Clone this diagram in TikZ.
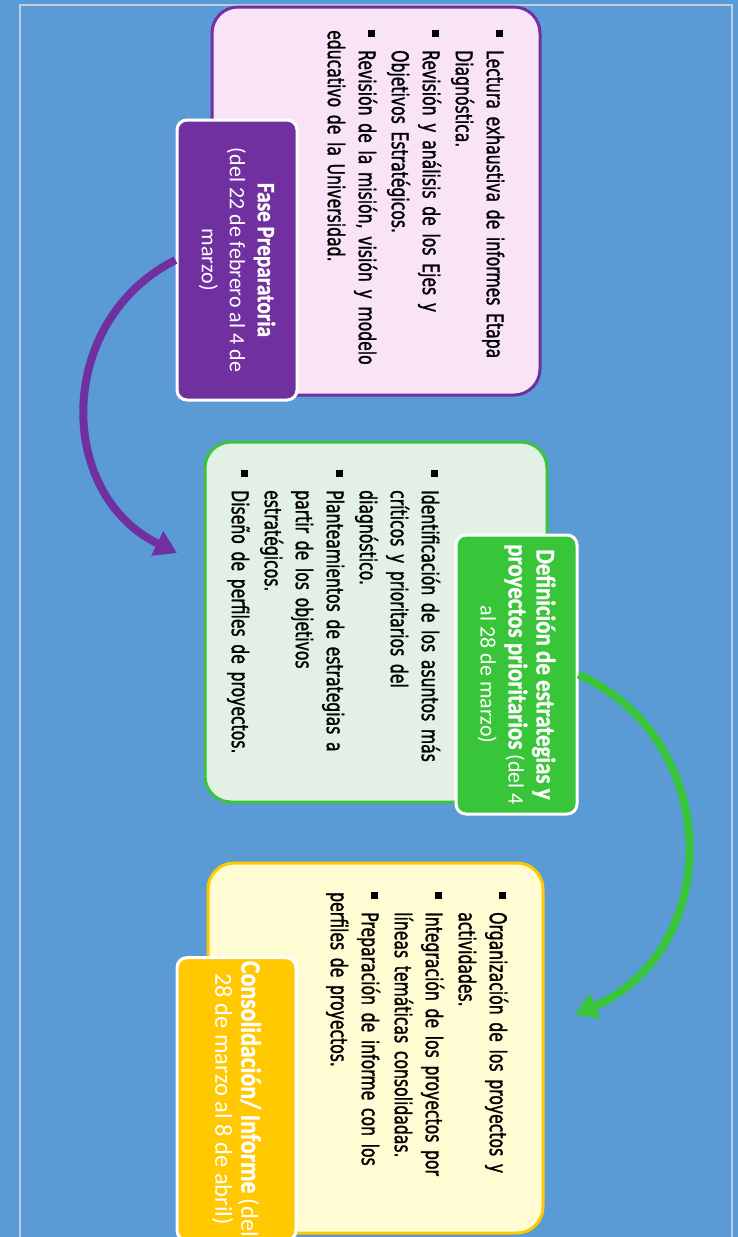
\documentclass[tikz,border=0pt]{standalone}
\usepackage{fontspec}
\setmainfont{Carlito}
\newfontfamily\itemfont[FakeStretch=0.68,FakeBold=1.2]{DejaVu Sans}
\newfontfamily\headfont[FakeStretch=0.85,FakeBold=1]{Carlito}
\usetikzlibrary{arrows.meta,calc}

\definecolor{bgblue}{RGB}{91,155,213}
\definecolor{framegray}{RGB}{190,205,225}
\definecolor{prepviolet}{RGB}{112,48,160}
\definecolor{prepfill}{RGB}{249,228,247}
\definecolor{defgreen}{RGB}{57,197,57}
\definecolor{deffill}{RGB}{226,240,230}
\definecolor{consyellow}{RGB}{255,200,0}
\definecolor{consfill}{RGB}{255,252,212}

\newcommand{\bitem}[1]{\par\noindent\hangindent=20pt\hangafter=1\makebox[20pt][l]{\raisebox{9pt}{\rule{7pt}{7pt}}}#1}
\newcommand{\headtxt}[2][25]{{\headfont\bfseries\fontsize{#1}{28}\selectfont #2}}

\begin{document}
\begin{tikzpicture}[
            x=1pt, y=-1pt,
            contentbox/.style={draw, line width=3pt, rounded corners=26pt, rotate=-90},
            labelbox/.style={draw=white, line width=3pt, rounded corners=10pt, rotate=-90,
                text=white, align=center, font=\fontsize{22}{28}\selectfont},
            itemlist/.style={rotate=-90, anchor=north west, inner sep=0pt, text width=340pt, align=left,
                font=\itemfont\fontsize{23}{31}\selectfont\setlength{\parskip}{2pt}},
            flowarrow/.style={line width=8pt, -{Triangle[width=26pt,length=22pt]}}
        ]
            \path[use as bounding box, fill=bgblue] (0,0) rectangle (738,1237);
            \draw[framegray, line width=1.5pt] (20,5) rectangle (732,1260);

            % phase boxes
            \node[contentbox, draw=prepviolet, fill=prepfill, minimum width=388pt, minimum height=328pt] (prepbox) at (376,201) {};
            \node[contentbox, draw=defgreen, fill=deffill, minimum width=360pt, minimum height=342pt] (defbox) at (376,622) {};
            \node[contentbox, draw=consyellow, fill=consfill, minimum width=370pt, minimum height=335pt] (consbox) at (375.5,1048) {};

            \node[itemlist] (preplist) at (520,30) {%
                \bitem{Lectura exhaustiva de informes Etapa\newline Diagnóstica.}
                \bitem{Revisión y análisis de los Ejes y\newline Objetivos Estratégicos.}
                \bitem{Revisión de la misión, visión y modelo\newline educativo de la Universidad.}};
            \node[itemlist] (deflist) at (455,470) {%
                \bitem{Identificación de los asuntos más\newline críticos y prioritarios del\newline diagnóstico.}
                \bitem{Planteamientos de estrategias a\newline partir de los objetivos\newline estratégicos.}
                \bitem{Diseño de perfiles de proyectos.}};
            \node[itemlist] (conslist) at (523,892) {%
                \bitem{Organización de los proyectos y\newline actividades.}
                \bitem{Integración de los proyectos por\newline líneas temáticas consolidadas.}
                \bitem{Preparación de informe con los\newline perfiles de proyectos.}};

            % phase labels
            \node[labelbox, fill=prepviolet, minimum width=280pt, minimum height=120pt] (preplabel) at (237,260)
                {\headtxt{Fase Preparatoria}\\(del 22 de febrero al 4 de\\marzo)};
            \node[labelbox, fill=defgreen, minimum width=279pt, minimum height=121pt] (deflabel) at (516.5,674.5)
                {\headtxt[27]{Definición de estrategias y}\\\headtxt[27]{proyectos prioritarios} (del 4\\al 28 de marzo)};
            \node[labelbox, fill=consyellow, minimum width=274pt, minimum height=119pt, font=\fontsize{24.5}{26}\selectfont] (conslabel) at (236.5,1099)
                {\headtxt[28]{Consolidación/ Informe} (del\\28 de marzo al 8 de abril)};

            \coordinate (preptip) at (177,553);
            \coordinate (deftip) at (575,1015);

            \draw[flowarrow, prepviolet] (preplabel.south) .. controls (55,321) and (56,494) .. (preptip);
            \draw[flowarrow, defgreen] (deflabel.north) .. controls (725,741) and (723,950) .. (deftip);
        \end{tikzpicture}
\end{document}
